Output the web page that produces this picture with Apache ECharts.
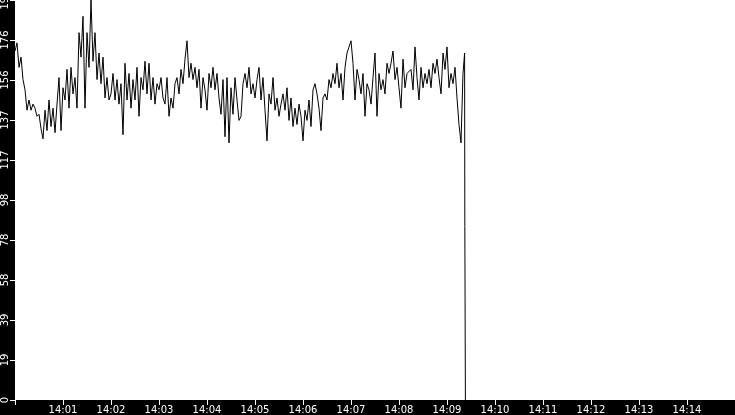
<!DOCTYPE html>
<html>
<head>
<meta charset="utf-8">
<script src="https://cdn.jsdelivr.net/npm/echarts@6/dist/echarts.min.js"></script>
<style>
    html, body { margin: 0; padding: 0; background: #000; }
    #chart { width: 735px; height: 415px; }
</style>
</head>
<body>
<div id="chart"></div>
<script>
    // samples every 2.5 s starting 14:00:00
    var stepSec = 2.5;
    var values = [
        171, 175, 163, 168, 157, 152, 142, 147, 142, 145, 143, 139, 140, 133, 128, 142, 132, 147, 134, 143,
        131, 145, 158, 132, 153, 147, 162, 143, 163, 150, 158, 143, 180, 168, 188, 143, 180, 163, 196, 166,
        180, 157, 170, 155, 168, 148, 158, 147, 150, 160, 147, 157, 145, 155, 130, 165, 147, 160, 143, 157,
        147, 163, 139, 158, 152, 166, 150, 165, 147, 158, 145, 155, 152, 158, 148, 145, 158, 139, 148, 143,
        155, 158, 150, 162, 155, 167, 176, 158, 165, 157, 163, 153, 162, 143, 158, 152, 142, 160, 153, 163,
        152, 160, 148, 140, 157, 129, 158, 126, 153, 140, 158, 147, 137, 139, 155, 160, 153, 163, 150, 155,
        148, 157, 163, 147, 158, 142, 127, 150, 145, 158, 142, 148, 139, 145, 150, 142, 153, 137, 148, 134,
        143, 135, 145, 139, 127, 142, 137, 147, 134, 152, 155, 150, 143, 132, 148, 150, 147, 157, 153, 160,
        155, 165, 153, 160, 147, 163, 170, 173, 176, 165, 147, 162, 157, 150, 160, 139, 155, 152, 145, 158,
        170, 139, 160, 152, 157, 150, 165, 160, 165, 171, 157, 163, 153, 143, 167, 153, 160, 160, 162, 152,
        173, 158, 147, 163, 153, 160, 155, 162, 153, 165, 160, 167, 158, 150, 170, 162, 173, 153, 160, 155,
        163, 148, 135, 126, 160
    ];
    // the final drop, seconds after 14:00:00
    var dropSec = [562, 562.3, 563];
    var dropValues = [170, 85, 0];
    var yTicks = [0, 19, 39, 58, 78, 98, 117, 137, 156, 176, 196];

    var t0 = new Date(2020, 0, 1, 14, 0, 0).getTime();
    var t1 = t0 + 15 * 60000;
    var data = [];
    values.forEach(function (v, i) {
        data.push([t0 + i * stepSec * 1000, v]);
    });
    dropSec.forEach(function (s, i) {
        data.push([t0 + s * 1000, dropValues[i]]);
    });

    function pad(n) {
        return (n < 10 ? '0' : '') + n;
    }

    var chart = echarts.init(document.getElementById('chart'));
    chart.setOption({
        backgroundColor: '#000',
        animation: false,
        grid: {
            left: 15,
            right: 0,
            top: 0,
            bottom: 15,
            containLabel: false,
            outerBoundsMode: 'none',
            show: true,
            backgroundColor: '#fff',
            borderWidth: 0
        },
        xAxis: {
            type: 'time',
            min: t0,
            max: t1,
            splitNumber: 15,
            minInterval: 60000,
            maxInterval: 60000,
            axisLine: {show: false},
            axisTick: {show: true, length: 5, lineStyle: {color: '#fff', width: 1}},
            splitLine: {show: false},
            axisLabel: {
                color: '#fff',
                fontFamily: 'DejaVu Sans',
                fontSize: 10,
                margin: 5,
                interval: 0,
                hideOverlap: false,
                formatter: function (v) {
                    if (v <= t0 || v >= t1) return '';
                    var d = new Date(v);
                    return pad(d.getHours()) + ':' + pad(d.getMinutes());
                }
            }
        },
        yAxis: {
            type: 'value',
            min: 0,
            max: yTicks[yTicks.length - 1],
            interval: 19.6,
            axisLine: {show: false},
            axisTick: {show: true, length: 5, lineStyle: {color: '#fff', width: 1}},
            splitLine: {show: false},
            axisLabel: {
                color: '#fff',
                fontFamily: 'DejaVu Sans',
                fontSize: 10,
                margin: 5,
                rotate: 90,
                formatter: function (v) {
                    var i = Math.round(v / 19.6);
                    return yTicks[i] !== undefined ? String(yTicks[i]) : '';
                }
            }
        },
        series: [{
            type: 'line',
            data: data,
            showSymbol: false,
            lineStyle: {color: '#000', width: 1},
            emphasis: {disabled: true}
        }]
    });
</script>
</body>
</html>
